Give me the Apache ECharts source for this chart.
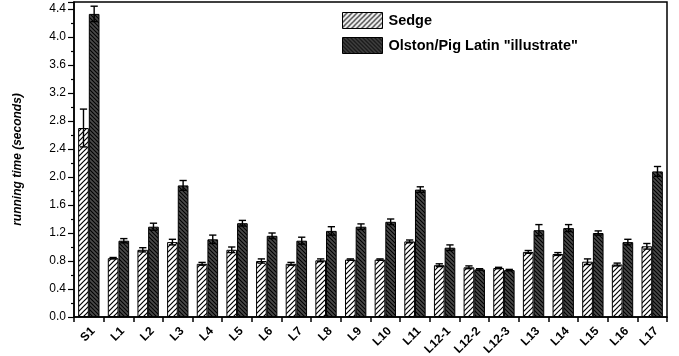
<!DOCTYPE html>
<html>
<head>
<meta charset="utf-8">
<script src="https://cdn.jsdelivr.net/npm/echarts@6/dist/echarts.min.js"></script>
<style>
  html, body { margin: 0; padding: 0; background: #fff; }
  #chart { width: 679px; height: 356px; }
</style>
</head>
<body>
<div id="chart"></div>
<script>
// Query labels along the x axis
const categories = ['S1', 'L1', 'L2', 'L3', 'L4', 'L5', 'L6', 'L7', 'L8', 'L9', 'L10',
  'L11', 'L12-1', 'L12-2', 'L12-3', 'L13', 'L14', 'L15', 'L16', 'L17'];

// Mean running time (seconds) and error half-width per query
const sedge = [2.70, 0.84, 0.96, 1.07, 0.76, 0.96, 0.80, 0.76, 0.81, 0.82, 0.82,
  1.08, 0.74, 0.71, 0.70, 0.93, 0.90, 0.79, 0.75, 1.01];
const sedgeErr = [0.27, 0.01, 0.03, 0.04, 0.02, 0.04, 0.03, 0.02, 0.02, 0.01, 0.01,
  0.02, 0.02, 0.02, 0.01, 0.02, 0.02, 0.04, 0.02, 0.04];

const illustrate = [4.33, 1.09, 1.29, 1.88, 1.11, 1.34, 1.16, 1.09, 1.23, 1.29, 1.36,
  1.82, 0.99, 0.68, 0.67, 1.24, 1.27, 1.20, 1.07, 2.08];
const illustrateErr = [0.11, 0.03, 0.05, 0.07, 0.06, 0.04, 0.04, 0.05, 0.06, 0.04, 0.04,
  0.04, 0.04, 0.01, 0.01, 0.08, 0.05, 0.03, 0.04, 0.07];

const seriesNames = ['Sedge', 'Olston/Pig Latin "illustrate"'];

// Diagonal hatch tile used as a fill pattern
function hatch(bg, fg, dir, size, lw) {
  const c = document.createElement('canvas');
  c.width = size; c.height = size;
  const g = c.getContext('2d');
  g.fillStyle = bg;
  g.fillRect(0, 0, size, size);
  g.strokeStyle = fg;
  g.lineWidth = lw;
  for (let k = -1; k <= 1; k++) {
    g.beginPath();
    if (dir === '/') {
      g.moveTo(k * size - 1, size + 1);
      g.lineTo(k * size + size + 1, -1);
    } else {
      g.moveTo(k * size - 1, -1);
      g.lineTo(k * size + size + 1, size + 1);
    }
    g.stroke();
  }
  return c;
}

const sedgeFill = { image: hatch('#ffffff', '#000000', '/', 5, 1.2), repeat: 'repeat' };
const illusFill = { image: hatch('#4a4a4a', '#000000', '\\', 4, 1.1), repeat: 'repeat' };

const BAR_RATIO = 0.36;

function errorSeries(values, errs, side) {
  return {
    type: 'custom',
    z: 5,
    silent: true,
    renderItem: function (params, api) {
      const idx = api.value(0);
      const v = api.value(1);
      const e = api.value(2);
      const band = api.size([1, 0])[0];
      const bw = band * BAR_RATIO;
      const x = api.coord([idx, v])[0] + side * bw / 2;
      const hi = api.coord([idx, v + e])[1];
      const lo = api.coord([idx, v - e])[1];
      const cap = bw * 0.34;
      const style = { stroke: '#000', lineWidth: 1.4 };
      return {
        type: 'group',
        children: [
          { type: 'line', shape: { x1: x, y1: hi, x2: x, y2: lo }, style: style },
          { type: 'line', shape: { x1: x - cap, y1: hi, x2: x + cap, y2: hi }, style: style },
          { type: 'line', shape: { x1: x - cap, y1: lo, x2: x + cap, y2: lo }, style: style }
        ]
      };
    },
    data: values.map((v, i) => [i, v, errs[i]])
  };
}

const chart = echarts.init(document.getElementById('chart'), null, { renderer: 'canvas' });

const font = "'Liberation Sans', Arial, Helvetica, sans-serif";

chart.setOption({
  animation: false,
  textStyle: { fontFamily: font },
  grid: {
    left: 74, right: 12, top: 2, bottom: 39,
    outerBoundsMode: 'none',
    containLabel: false,
    show: true, borderColor: '#000', borderWidth: 1.5, backgroundColor: 'transparent'
  },
  legend: {
    data: seriesNames,
    orient: 'vertical',
    left: 342, top: 12,
    padding: 0,
    itemWidth: 40, itemHeight: 16, itemGap: 8,
    icon: 'rect',
    textStyle: { fontFamily: font, fontWeight: 'bold', fontSize: 14.5, color: '#000', padding: [3, 0, 0, 1] },
    itemStyle: { borderColor: '#000', borderWidth: 1 }
  },
  xAxis: {
    type: 'category',
    data: categories,
    boundaryGap: true,
    axisLine: { lineStyle: { color: '#000', width: 1.5 } },
    axisTick: { show: true, length: 5, lineStyle: { color: '#000', width: 1.5 } },
    axisLabel: {
      interval: 0, rotate: 45, margin: 8,
      verticalAlign: 'top',
      fontFamily: font, fontWeight: 'bold', fontSize: 12, color: '#000'
    },
    splitLine: { show: false }
  },
  yAxis: {
    type: 'value',
    min: 0, max: 4.5, interval: 0.4,
    name: 'running time (seconds)',
    nameLocation: 'middle',
    nameRotate: 90,
    nameGap: 50,
    nameTextStyle: { fontFamily: font, fontStyle: 'italic', fontWeight: 'bold', fontSize: 12, color: '#000' },
    axisLine: { show: true, lineStyle: { color: '#000', width: 1.5 } },
    axisTick: { show: true, length: 6, lineStyle: { color: '#000', width: 1.2 } },
    minorTick: { show: true, splitNumber: 2, length: 3, lineStyle: { color: '#000', width: 1.2 } },
    axisLabel: {
      margin: 8, fontFamily: font, fontSize: 12, color: '#000',
      showMaxLabel: false,
      formatter: v => v.toFixed(1)
    },
    splitLine: { show: false }
  },
  series: [
    {
      name: seriesNames[0], type: 'bar',
      barWidth: (BAR_RATIO * 100) + '%', barGap: '0%',
      itemStyle: { color: sedgeFill, borderColor: '#000', borderWidth: 1 },
      data: sedge
    },
    {
      name: seriesNames[1], type: 'bar',
      barWidth: (BAR_RATIO * 100) + '%', barGap: '0%',
      itemStyle: { color: illusFill, borderColor: '#000', borderWidth: 1 },
      data: illustrate
    },
    errorSeries(sedge, sedgeErr, -1),
    errorSeries(illustrate, illustrateErr, 1)
  ]
});
</script>
</body>
</html>
